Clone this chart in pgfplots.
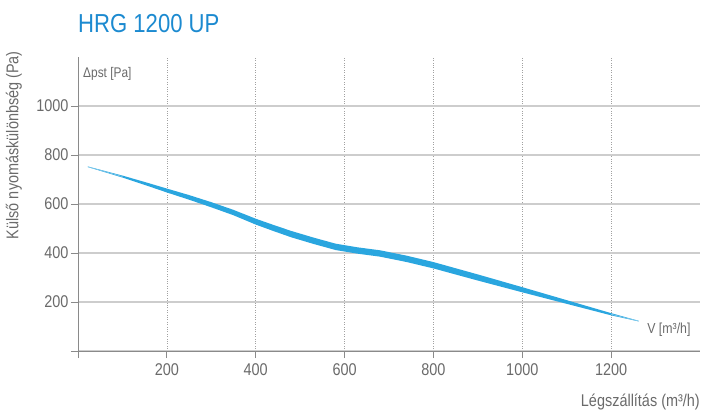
\documentclass[border=0pt]{standalone}
\usepackage{pgfplots}
\pgfplotsset{compat=1.18}
\usepackage{fontspec}
\setmainfont{Liberation Sans}[FakeStretch=0.85]
\definecolor{txtgray}{HTML}{6A6A6A}
\definecolor{axgray}{HTML}{8A8A8A}
\definecolor{gridgray}{HTML}{CDCDCD}
\definecolor{titleblue}{HTML}{1C8AD0}
\definecolor{curve}{HTML}{2AA6DF}
\definecolor{curvelight}{HTML}{8FD0EE}
\begin{document}
\begin{tikzpicture}
\begin{axis}[
  at={(0,0)}, anchor=south west,
  scale only axis, width=622pt, height=294pt,
  xmin=0, xmax=1400, ymin=0, ymax=1200,
  axis x line=bottom, axis y line=left,
  axis line style={draw=axgray, line width=0.8pt, -},
  tick align=outside, major tick length=7pt,
  tick style={draw=axgray, line width=0.8pt},
  xtick={0,200,400,600,800,1000,1200},
  xticklabels={{},200,400,600,800,1000,1200},
  ytick={0,200,400,600,800,1000},
  yticklabels={{},200,400,600,800,1000},
  /pgf/number format/assume math mode=true,
  ticklabel style={font=\fontsize{17}{17}\selectfont, text=txtgray},
  xticklabel style={yshift=-2pt},
  yticklabel style={xshift=1pt},
  xmajorgrids, ymajorgrids,
  x grid style={draw=axgray!80, dotted, line width=0.6pt},
  y grid style={draw=gridgray, line width=1.2pt},
  clip=false,
]
% curve: band of varying thickness (upper edge forward, lower edge back)
\addplot[fill=curve, draw=none] coordinates {
  (22,753.2) (100,716) (150,690) (200,663) (250,636.5) (300,607.5) (350,576)
  (400,540) (440,514.5) (480,490) (530,463) (580,438) (630,423) (680,411)
  (740,389) (800,363) (900,312.5) (1000,260.5) (1050,234) (1100,207.5)
  (1150,181) (1200,154.5) (1262,123.2)
  (1262,120.8) (1200,145.5) (1150,169) (1100,192.5) (1050,216) (1000,239.5)
  (900,287.5) (800,337) (740,363) (680,385) (630,397) (580,412) (530,437)
  (480,464) (440,489.5) (400,516) (350,554) (300,586.5) (250,617.5)
  (200,647) (150,678) (100,708) (22,750.8) (22,753.2)};
\addplot[draw=curvelight, line width=0.5pt] coordinates {(22,752) (100,712)};
\addplot[draw=curvelight, line width=0.5pt] coordinates {(1200,150) (1262,122)};
\node[anchor=base west, inner sep=0, text=titleblue, font=\fontsize{26}{26}\selectfont]
  at ([yshift=24pt]rel axis cs:0,1) {HRG 1200 UP};
\node[anchor=west, inner sep=0, text=txtgray, font=\fontsize{14}{14}\selectfont]
  at ([xshift=5pt,yshift=-17pt]rel axis cs:0,1) {Δpst [Pa]};
\node[anchor=west, inner sep=0, text=txtgray, font=\fontsize{14.5}{14.5}\selectfont]
  at (axis cs:1281,88) {V [m³/h]};
\node[anchor=east, inner sep=0, text=txtgray, font=\fontsize{17}{17}\selectfont]
  at ([yshift=-51pt]rel axis cs:1,0) {Légszállítás (m³/h)};
\node[rotate=90, anchor=center, inner sep=0, text=txtgray, font=\fontsize{17}{17}\selectfont]
  at ([xshift=-64pt]rel axis cs:0,0.70) {Külső nyomáskülönbség (Pa)};
\end{axis}
\path[use as bounding box] (-78pt,-59pt) rectangle (623pt,351pt);
\end{tikzpicture}
\end{document}
